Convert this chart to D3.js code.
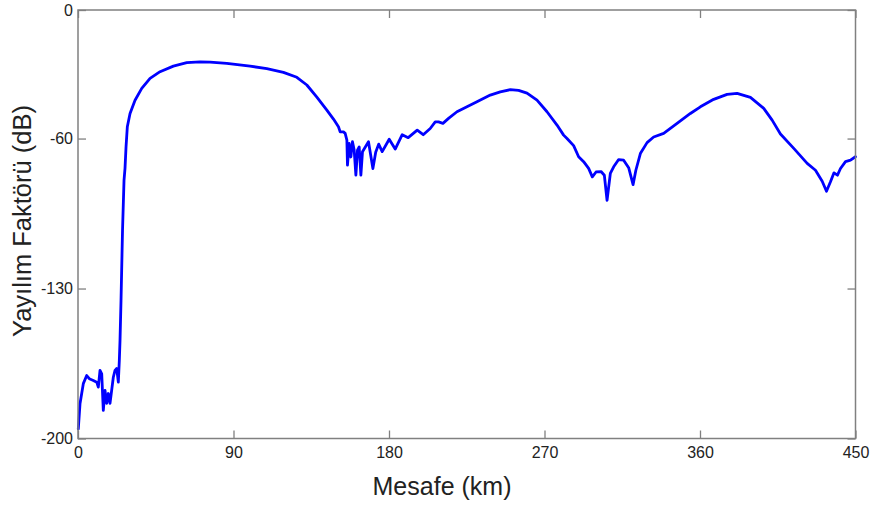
<!DOCTYPE html>
<html>
<head>
<meta charset="utf-8">
<script src="https://cdn.jsdelivr.net/npm/d3@7"></script>
<style>
  html, body { margin: 0; padding: 0; background: #fff; }
  svg { display: block; }
  text { font-family: "Liberation Sans", Arial, sans-serif; }
</style>
</head>
<body>
<svg id="chart" width="873" height="507"></svg>
<script>
// Distance (km)
const distanceKm = [
  0.17, 1.16, 3.07, 5.04, 6.54, 8.86, 10.83, 11.76, 12.74, 13.73,
  14.65, 15.64, 16.62, 17.55, 18.53, 20.44, 21.43, 22.41, 23.34, 23.92,
  24.32, 24.9, 25.77, 26.64, 27.22, 27.8, 28.55, 30.12, 33.01, 36.89,
  41.7, 47.49, 55.19, 62.95, 70.66, 76.45, 86.12, 99.61, 109.29, 118.9,
  126.66, 132.45, 138.24, 144.03, 147.86, 150.75, 151.74, 153.65, 154.63, 155.62,
  155.97, 156.95, 157.94, 158.86, 159.85, 160.83, 161.76, 162.74, 163.72, 164.65,
  168.13, 170.68, 172.30, 174.03, 176.06, 180.12, 183.59, 187.65, 191.12, 196.33,
  199.80, 203.86, 206.76, 208.67, 211.22, 214.46, 219.33, 225.12, 230.91, 238.61,
  244.4, 250.19, 255.0, 259.87, 265.66, 271.45, 277.24, 281.06, 283.03, 286.86,
  289.75, 292.65, 295.54, 297.68, 299.83, 302.72, 304.63, 306.2, 308.1, 310.03,
  312.92, 315.81, 318.71, 321.26, 322.88, 325.48, 329.36, 333.18, 338.97, 346.73,
  354.43, 360.22, 367.93, 375.69, 381.48, 389.19, 396.89, 401.75, 406.56, 414.27,
  422.03, 426.84, 430.72, 433.21, 435.52, 437.55, 439.57, 441.31, 444.21, 447.1,
  450
];
// Spreading factor (dB)
const spreadingDb = [
  -195.5, -183.8, -174.4, -170.6, -172.1, -172.9, -173.7, -176.0, -168.2, -169.8,
  -186.9, -177.6, -183.6, -179.0, -183.6, -171.4, -168.2, -167.3, -173.7, -163.6,
  -154.2, -135.5, -102.8, -79.4, -73.8, -63.9, -54.5, -48.3, -42.1, -36.6,
  -31.9, -28.8, -26.2, -24.6, -24.2, -24.3, -24.9, -26.2, -27.4, -29.1,
  -31.4, -35.0, -40.7, -46.7, -50.9, -54.5, -56.9, -56.9, -57.6, -60.7,
  -72.4, -62.3, -68.6, -61.5, -65.4, -77.1, -65.4, -63.9, -77.1, -66.2,
  -61.5, -74.0, -66.4, -62.6, -66.1, -60.3, -64.9, -58.2, -59.6, -56.1,
  -58.2, -55.3, -52.2, -52.2, -52.9, -50.6, -47.5, -45.2, -42.8, -39.7,
  -38.2, -37.2, -37.5, -38.8, -42.1, -47.5, -53.7, -58.4, -60.0, -63.3,
  -68.5, -70.8, -73.9, -77.9, -75.6, -75.4, -77.1, -88.8, -76.3, -73.2,
  -69.8, -70.1, -73.6, -81.5, -74.8, -67.0, -61.9, -59.3, -57.6, -52.9,
  -48.3, -45.2, -41.7, -39.4, -38.9, -40.8, -45.9, -51.4, -57.9, -64.6,
  -71.6, -74.8, -79.9, -84.6, -80.2, -76.0, -77.1, -74.0, -70.8, -70.1,
  -68.5
];
const xTicks = [0, 90, 180, 270, 360, 450];
const yTicks = [0, -60, -130, -200];
const xLabel = "Mesafe (km)";
const yLabel = "Yayılım Faktörü (dB)";

const svg = d3.select("#chart");
const mLeft = 78, mRight = 855.5, mTop = 10, mBottom = 438.5;

const x = d3.scaleLinear().domain([0, 450]).range([mLeft, mRight]);
const y = d3.scaleLinear().domain([-200, 0]).range([mBottom, mTop]);

const axisColor = "#808080";
const tickLen = 8;
const fmt = d => String(d);

// Data line
const data = distanceKm.map((d, i) => [d, spreadingDb[i]]);
svg.append("path")
  .datum(data)
  .attr("fill", "none")
  .attr("stroke", "#0000ff")
  .attr("stroke-width", 2.8)
  .attr("stroke-linejoin", "round")
  .attr("stroke-linecap", "round")
  .attr("d", d3.line().x(d => x(d[0])).y(d => y(d[1])));

// Box
svg.append("rect")
  .attr("x", mLeft).attr("y", mTop)
  .attr("width", mRight - mLeft).attr("height", mBottom - mTop)
  .attr("fill", "none").attr("stroke", axisColor).attr("stroke-width", 1.5);

// Axes (ticks inward, mirrored)
const gx = svg.append("g").attr("transform", `translate(0,${mBottom})`)
  .call(d3.axisBottom(x).tickValues(xTicks).tickSize(-tickLen).tickPadding(8).tickFormat(fmt));
const gxTop = svg.append("g").attr("transform", `translate(0,${mTop})`)
  .call(d3.axisTop(x).tickValues(xTicks).tickSize(-tickLen).tickFormat(""));
const gy = svg.append("g").attr("transform", `translate(${mLeft},0)`)
  .call(d3.axisLeft(y).tickValues(yTicks).tickSize(-tickLen).tickPadding(5).tickFormat(fmt));
const gyR = svg.append("g").attr("transform", `translate(${mRight},0)`)
  .call(d3.axisRight(y).tickValues(yTicks).tickSize(-tickLen).tickFormat(""));

[gx, gxTop, gy, gyR].forEach(g => {
  g.select(".domain").remove();
  g.selectAll(".tick line").attr("stroke", axisColor).attr("stroke-width", 1.3);
  g.selectAll(".tick text").attr("fill", "#222").attr("font-size", 16)
    .attr("font-family", "'Liberation Sans', Arial, sans-serif");
});

// Axis labels
svg.append("text")
  .attr("x", 442).attr("y", 495)
  .attr("text-anchor", "middle")
  .attr("font-size", 25).attr("fill", "#222")
  .text(xLabel);
svg.append("text")
  .attr("transform", `translate(31,221) rotate(-90)`)
  .attr("text-anchor", "middle")
  .attr("font-size", 25.5).attr("fill", "#222")
  .text(yLabel);
</script>
</body>
</html>
